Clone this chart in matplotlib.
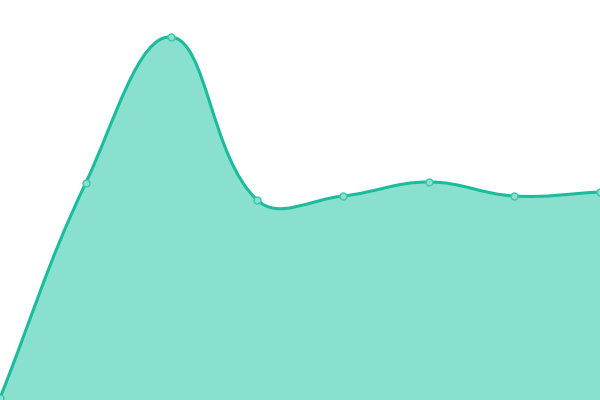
import numpy as np
import matplotlib
matplotlib.use('Agg')
import matplotlib.pyplot as plt
from matplotlib.path import Path
from matplotlib.patches import PathPatch

# data (axis 0..400)
labels = ['A', 'B', 'C', 'D', 'E', 'F', 'G', 'H']
values = [2, 217, 363, 200, 204, 218, 204, 208]

W, H = 600, 400
tension = 0.4

xs = np.linspace(0, W, len(values))
ys = np.array(values, dtype=float)

# chart.js style spline control points
n = len(xs)
cps = []
for i in range(n):
    p = np.array([xs[i], ys[i]])
    prev = np.array([xs[i - 1], ys[i - 1]]) if i > 0 else p
    nxt = np.array([xs[i + 1], ys[i + 1]]) if i < n - 1 else p
    d01 = np.hypot(*(p - prev))
    d12 = np.hypot(*(nxt - p))
    tot = d01 + d12
    s01 = d01 / tot if tot else 0
    s12 = d12 / tot if tot else 0
    fa = tension * s01
    fb = tension * s12
    cp_prev = p - fa * (nxt - prev)
    cp_next = p + fb * (nxt - prev)
    cp_prev[1] = np.clip(cp_prev[1], 0, H)
    cp_next[1] = np.clip(cp_next[1], 0, H)
    cps.append((cp_prev, cp_next))

verts = [(xs[0], ys[0])]
codes = [Path.MOVETO]
for i in range(n - 1):
    verts += [tuple(cps[i][1]), tuple(cps[i + 1][0]), (xs[i + 1], ys[i + 1])]
    codes += [Path.CURVE4] * 3

fill_verts = verts + [(xs[-1], 0), (xs[0], 0), (xs[0], ys[0])]
fill_codes = codes + [Path.LINETO, Path.LINETO, Path.CLOSEPOLY]

fig = plt.figure(figsize=(6, 4), dpi=100)
ax = fig.add_axes([0, 0, 1, 1])
ax.add_patch(PathPatch(Path(fill_verts, fill_codes), facecolor='#8ae0cf',
                       edgecolor='none'))
ax.add_patch(PathPatch(Path(verts, codes), facecolor='none',
                       edgecolor='#1abc9c', linewidth=2.2))
ax.plot(xs, ys, 'o', ms=5, mfc='#8ae0cf', mec='#3cc6a8', mew=1.0)
ax.set_xlim(0, W)
ax.set_ylim(0, H)
ax.axis('off')

fig.savefig('out.png', dpi=100)
